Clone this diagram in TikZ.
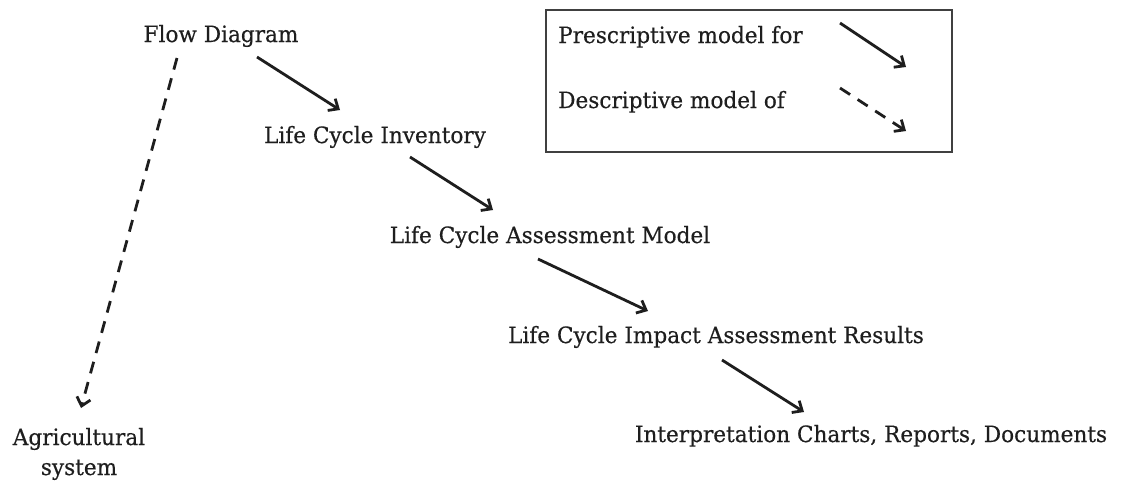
\documentclass[tikz,border=0pt]{standalone}
\usepackage{fontspec}
\setmainfont[FakeStretch=0.96, FakeBold=0.4]{DejaVu Serif}
\usetikzlibrary{arrows.meta}
\definecolor{ink}{HTML}{1E1E1E}
\tikzset{
  label text/.style={font=\fontsize{22.5}{30}\selectfont, text=ink, inner sep=0pt, anchor=base},
  prescriptive/.style={draw=ink, line width=2.8pt,
    -{Straight Barb[length=8pt, width=14pt, line width=2.8pt]}},
  descriptive/.style={prescriptive, dash pattern=on 12pt off 9pt},
  legend box/.style={draw=ink!85, line width=1.4pt}
}
\begin{document}
\begin{tikzpicture}[x=1pt, y=-1pt]
  \useasboundingbox (0,0) rectangle (1124,480);

  % chain of models
  \node[label text] (fd)  at (221,42)  {Flow Diagram};
  \node[label text] (lci) at (375,143) {Life Cycle Inventory};
  \node[label text] (lca) at (550,243) {Life Cycle Assessment Model};
  \node[label text] (lcia) at (716,343) {Life Cycle Impact Assessment Results};
  \node[label text] (int) at (871,442) {Interpretation Charts, Reports, Documents};
  \node[label text, align=center] (ag) at (79,475) {Agricultural\\system};

  % arrow end points
  \coordinate (a1s) at (257,57);  \coordinate (a1e) at (340,110);
  \coordinate (a2s) at (410,157); \coordinate (a2e) at (493,210);
  \coordinate (a3s) at (538,259); \coordinate (a3e) at (648,311);
  \coordinate (a4s) at (722,360); \coordinate (a4e) at (804,412);
  \coordinate (dds) at (177,58);  \coordinate (dde) at (81,408);

  \draw[prescriptive] (a1s) -- (a1e);
  \draw[prescriptive] (a2s) -- (a2e);
  \draw[prescriptive] (a3s) -- (a3e);
  \draw[prescriptive] (a4s) -- (a4e);
  \draw[descriptive] (dds) -- (dde);

  % legend
  \draw[legend box] (546,10) rectangle (952,152);
  \node[label text, anchor=base west] (lp) at (558,43) {Prescriptive model for};
  \node[label text, anchor=base west] (ld) at (558,108) {Descriptive model of};
  \coordinate (lps) at (840,23); \coordinate (lpe) at (906,67);
  \coordinate (lds) at (840,88); \coordinate (lde) at (906,131);
  \draw[prescriptive] (lps) -- (lpe);
  \draw[descriptive] (lds) -- (lde);
\end{tikzpicture}
\end{document}
